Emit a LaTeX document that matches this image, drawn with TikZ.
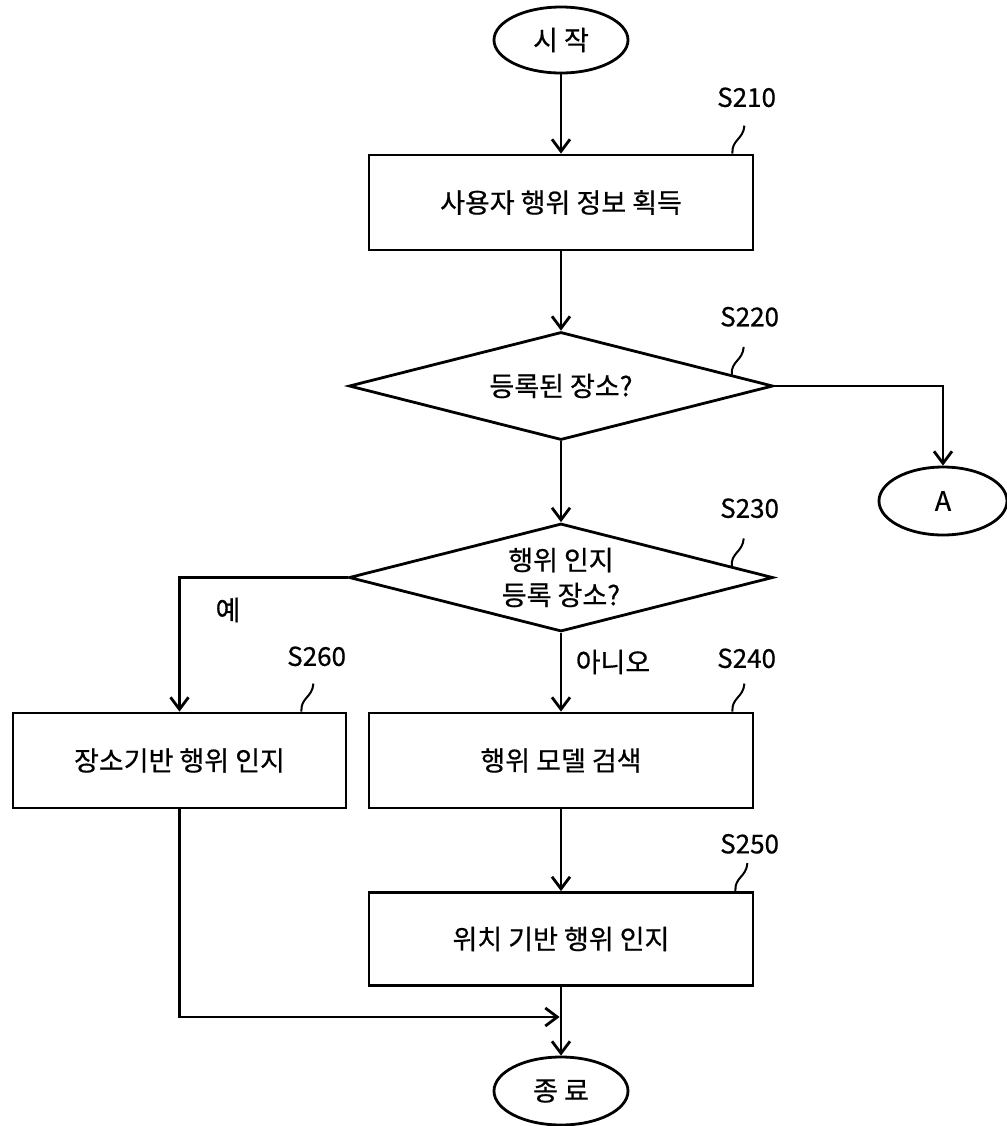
\documentclass[tikz,border=0pt]{standalone}
\usepackage{fontspec}
\setmainfont{Noto Sans CJK KR}[FakeBold=0.6]
\usetikzlibrary{positioning,shapes.geometric,arrows.meta,calc}
\tikzset{%
  proc/.style={draw,line width=1.4pt,minimum width=192pt,minimum height=47.5pt,inner sep=0pt},
  dec/.style={draw,diamond,aspect=4,line width=1.4pt,minimum width=212pt,minimum height=54pt,inner sep=0pt,align=center},
  term/.style={draw,ellipse,line width=1.4pt,minimum width=67pt,minimum height=33pt,inner sep=0pt},
  lbl/.style={inner sep=0pt,font=\fontsize{13}{15}\selectfont},
  ans/.style={inner sep=0pt},
  arr/.style={line width=1.4pt,-{Straight Barb[length=6pt,width=9pt]}},
  lead/.pic={\draw[line width=1pt] (0,0) .. controls (-0.5pt,7pt) and (5.5pt,7pt) .. (6pt,14pt);}
}

\begin{document}
\begin{tikzpicture}[x=0.5pt,y=-0.5pt,font=\fontsize{13.5}{17.5}\selectfont]
  \useasboundingbox (0,0) rectangle (1007,1126);
  \node[term] (start) at (561,40) {시 작};
  \node[proc] (s210) at (561,202.5) {사용자 행위 정보 획득};
  \node[dec] (s220) at (561,386) {등록된 장소?};
  \node[term,minimum width=64pt,minimum height=34pt] (a) at (943,501) {A};
  \node[dec] (s230) at (561,577.5) {행위 인지\\등록 장소?};
  \node[proc,minimum width=166.5pt] (s260) at (179.5,760.5) {장소기반 행위 인지};
  \node[proc] (s240) at (561,760.5) {행위 모델 검색};
  \node[proc,minimum height=46.5pt] (s250) at (561,939) {위치 기반 행위 인지};
  \node[term,minimum height=34pt] (fin) at (561,1091) {종 료};
  \coordinate (join) at (s250.south |- 0,1017);

  \draw[arr] (start) -- (s210);
  \draw[arr] (s210) -- (s220);
  \draw[arr] (s220.east) -| (a.north);
  \draw[arr] (s220) -- (s230);
  \draw[arr] (s230.west) -| (s260.north);
  \draw[arr] (s230) -- (s240);
  \draw[arr] (s240) -- (s250);
  \draw[arr] (s250) -- (fin);
  \draw[arr] (s260.south) |- ([xshift=-0.7pt]join);

  \node[ans] (yes) at (228,610) {예};
  \node[ans] (no) at (613,662) {아니오};

  \node[style=lbl,above left=23pt and -11pt of s210.north east] (l210) {S210};
  \node[style=lbl,above left=29.5pt and -2.5pt of s220.east] (l220) {S220};
  \node[style=lbl,above left=29.5pt and -2.5pt of s230.east] (l230) {S230};
  \node[style=lbl,above left=22.5pt and 0.5pt of s260.north east] (l260) {S260};
  \node[style=lbl,above left=21.5pt and -11pt of s240.north east] (l240) {S240};
  \node[style=lbl,above left=18.5pt and -12.5pt of s250.north east] (l250) {S250};

  \pic at ([xshift=-11pt]s210.north east) {lead};
  \pic at ($(s220.east)!0.2!(s220.north)$) {lead};
  \pic at ($(s230.east)!0.2!(s230.north)$) {lead};
  \pic at ([xshift=-23pt]s260.north east) {lead};
  \pic at ([xshift=-11pt]s240.north east) {lead};
  \pic at ([xshift=-9.5pt]s250.north east) {lead};
\end{tikzpicture}
\end{document}
